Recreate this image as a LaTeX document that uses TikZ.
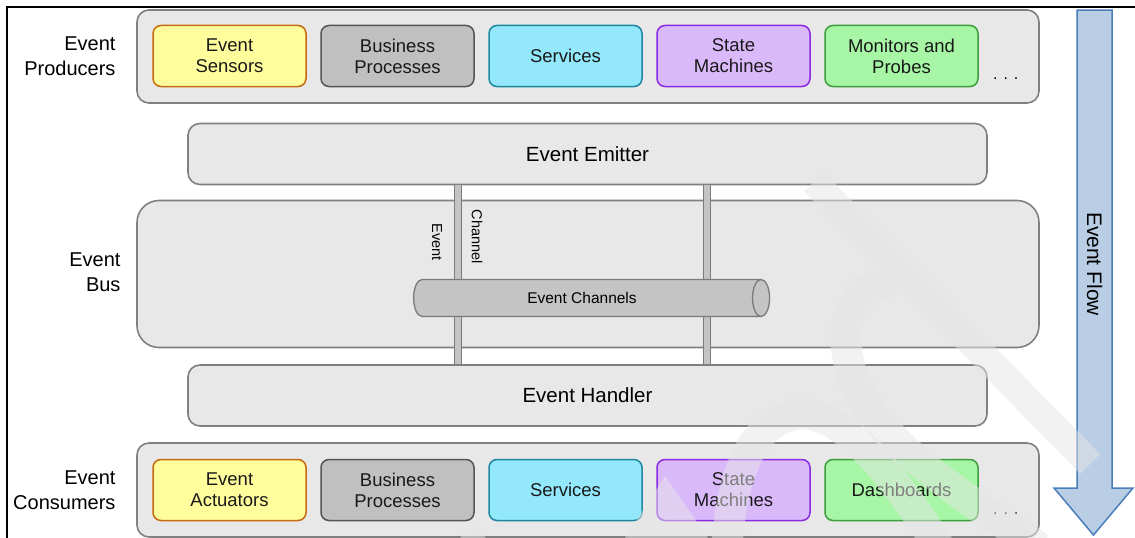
\documentclass[tikz,border=0pt]{standalone}
\usepackage{fontspec}
\setmainfont{Liberation Sans}
\usetikzlibrary{positioning}
\usetikzlibrary{matrix}
\usetikzlibrary{shapes.geometric}

\definecolor{tierfill}{HTML}{E8E8E8}
\definecolor{tieredge}{HTML}{808080}
\definecolor{yelfill}{HTML}{FFFD9C}
\definecolor{yeledge}{HTML}{C86A10}
\definecolor{greyfill}{HTML}{C0C0C0}
\definecolor{greyedge}{HTML}{555555}
\definecolor{cyanfill}{HTML}{93E8FC}
\definecolor{cyanedge}{HTML}{1E86A0}
\definecolor{lilafill}{HTML}{DAB9FB}
\definecolor{lilaedge}{HTML}{8A2BE2}
\definecolor{grnfill}{HTML}{A6F6A6}
\definecolor{grnedge}{HTML}{3E9E3E}
\definecolor{chanfill}{HTML}{C4C4C4}
\definecolor{chanedge}{HTML}{7A7A7A}
\definecolor{flowfill}{HTML}{B9CDE5}
\definecolor{flowedge}{HTML}{4A7EBB}
\definecolor{wmgray}{HTML}{E6E6E6}

\tikzset{
  tier/.style={draw=tieredge, fill=tierfill, line width=1.6pt, rounded corners=12pt, inner sep=0pt},
  unit/.style={rounded corners=8pt, line width=1.5pt, minimum width=153pt, minimum height=61pt,
    align=center, inner sep=0pt, text=black!90, font=\fontsize{18.5}{21}\selectfont},
  sensor/.style={unit, draw=yeledge, fill=yelfill},
  bproc/.style={unit, draw=greyedge, fill=greyfill},
  service/.style={unit, draw=cyanedge, fill=cyanfill},
  fsm/.style={unit, draw=lilaedge, fill=lilafill},
  probe/.style={unit, draw=grnedge, fill=grnfill},
  side/.style={align=right, anchor=east, font=\fontsize{20}{25}\selectfont},
  big/.style={font=\fontsize{20.5}{24}\selectfont},
  dots/.style={font=\fontsize{16}{18}\selectfont},
  small/.style={font=\fontsize{14.5}{16}\selectfont, inner sep=0pt},
  pipe/.style={draw=chanedge, line width=1.3pt, double=chanfill, double distance=6pt},
  channel/.style={cylinder, draw=chanedge, fill=chanfill, line width=1.3pt, aspect=1.5,
    minimum height=356pt, minimum width=37pt, inner sep=0pt, font=\fontsize{15.5}{18}\selectfont},
  flow/.style={draw=flowedge, fill=flowfill, line width=1.5pt, line join=miter},
  wmark/.style={draw=wmgray, opacity=0.5, line width=31pt}
}

\begin{document}
\begin{tikzpicture}[x=1pt, y=-1pt]
        \useasboundingbox (0,0) rectangle (1135,538);
        \draw[line width=1.5pt] (1135,7) -- (7,7) -- (7,538);

        %% Producers row
        \node[tier, minimum width=902pt, minimum height=93pt] (prod) at (588,56.5) {};
        \matrix[column sep=13.5pt] (prodrow) at (565.5,56)
        {
          \node[sensor] (psens) {Event\\Sensors}; &
          \node[bproc] (pbiz) {Business\\Processes}; &
          \node[service] (pserv) {Services}; &
          \node[fsm] (pfsm) {State\\Machines}; &
          \node[probe] (pmon) {Monitors and\\Probes}; \\
        };
        \node[dots] (pdots) at ([xshift=27pt,yshift=9pt]pmon.south east) {. . .};
        \node[side] (prodlab) at (119,56.5) {Event\\Producers};

        %% Emitter, bus and handler
        \node[tier, minimum width=799pt, minimum height=61pt, big] (emitter) at (587.5,154) {Event Emitter};
        \node[tier, rounded corners=22pt, minimum width=902pt, minimum height=147pt] (bus) at (588,274) {};
        \node[tier, minimum width=799pt, minimum height=61pt, big] (handler) at (587.5,395.5) {Event Handler};
        \node[side] (buslab) at (124,272) {Event\\Bus};

        \draw[pipe] ([xshift=-129.5pt]emitter.south) -- ([xshift=-129.5pt]handler.north);
        \draw[pipe] ([xshift=119.5pt]emitter.south) -- ([xshift=119.5pt]handler.north);
        \node[channel] (chan) at (587,298) {Event Channels\hspace*{10pt}};
        \node[small, rotate=-90] (evlab) at (437,242) {Event};
        \node[small, rotate=-90] (chlab) at (477,237) {Channel};

        %% Consumers row
        \node[tier, minimum width=902pt, minimum height=94pt] (cons) at (588,490) {};
        \matrix[column sep=13.5pt] (consrow) at (565.5,490)
        {
          \node[sensor] (cact) {Event\\Actuators}; &
          \node[bproc] (cbiz) {Business\\Processes}; &
          \node[service] (cserv) {Services}; &
          \node[fsm] (cfsm) {State\\Machines}; &
          \node[probe] (cdash) {Dashboards}; \\
        };
        \node[dots] (cdots) at ([xshift=27pt,yshift=8pt]cdash.south east) {. . .};
        \node[side] (conslab) at (119,490.5) {Event\\Consumers};

        %% Event flow arrow
        \draw[flow] (1077,10) -- (1112,10) -- (1112,488) -- (1133,488) -- (1093.5,535)
          -- (1054,488) -- (1077,488) -- cycle;
        \node[big, font=\fontsize{21}{24}\selectfont, rotate=-90] (flowlab) at (1094.5,264) {Event Flow};

        % watermark
        \draw[wmark, line width=28pt] (814,182) -- (1090,464);
        \draw[wmark] (1040,548) .. controls (940,480) and (845,425) .. (846,335)
          .. controls (847,300) and (868,282) .. (895,282);
        \draw[wmark] (727,548) .. controls (733,445) and (770,413) .. (805,414)
          .. controls (842,416) and (885,462) .. (940,548);
        \fill[wmgray, opacity=0.5] (460,538) -- (473,524) -- (486,538) -- cycle;
        \fill[wmgray, opacity=0.5] (625,538) -- (665,476) -- (708,538) -- cycle;
\end{tikzpicture}
\end{document}
